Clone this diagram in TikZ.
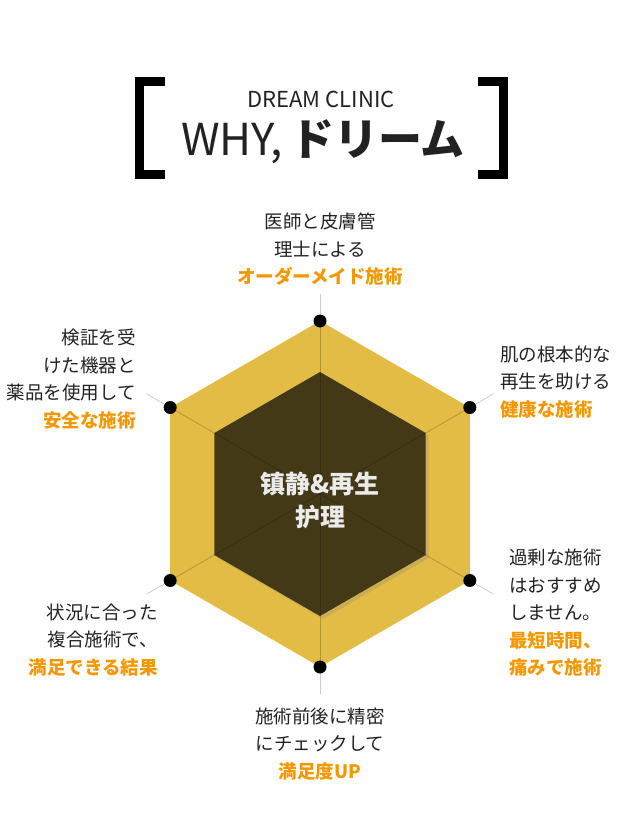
\documentclass[tikz,border=0pt]{standalone}
\usepackage{fontspec}
\setmainfont{Noto Sans CJK JP}
\newfontfamily\scfont{Noto Sans CJK SC}
\usetikzlibrary{positioning,calc,shadows}
\definecolor{gold}{HTML}{E3BC45}
\definecolor{darkcore}{HTML}{433916}
\definecolor{accent}{HTML}{F39800}
\definecolor{ink}{HTML}{222222}
\tikzset{
    radar/.style={x=1pt,y=-1pt,line join=miter},
    vertexdot/.style={circle,fill=black,inner sep=0pt,minimum size=13pt},
    spoke/.style={draw=black,opacity=0.2,line width=0.8pt},
    caption/.style={text=ink,inner sep=0pt,font=\fontsize{18.5}{27.5}\selectfont},
    bracket/.style={draw=black,line width=9pt},
    }
\newcommand{\hl}[1]{{\bfseries\color{accent}#1}}

\begin{document}
\begin{tikzpicture}[radar]
            \useasboundingbox (0,0) rectangle (640,837);
            \coordinate (c) at (320,494);
            % axes of the hexagon
            \foreach \i/\a in {1/-90,2/-30,3/30,4/90,5/150,6/210} {
                \coordinate (o\i) at ($(c)+(\a:173)$);
                \coordinate (i\i) at ($(c)+(\a:122)$);
                \coordinate (s\i) at ($(c)+(\a:200)$);
            }
            \fill[gold] (o1) -- (o2) -- (o3) -- (o4) -- (o5) -- (o6) -- cycle;
            \fill[darkcore, drop shadow={opacity=0.25,shadow xshift=3pt,shadow yshift=-3pt}]
                (i1) -- (i2) -- (i3) -- (i4) -- (i5) -- (i6) -- cycle;
            \foreach \i in {1,...,6}
                \draw[spoke] (c) -- (s\i);
            \foreach \i in {1,...,6}
                \node[vertexdot] (d\i) at (o\i) {};

            \node[text=white!92!black, align=center, font=\scfont\bfseries\fontsize{25}{33}\selectfont]
                (core) at (320,501) {镇静\&再生\\护理};

            % title
            \draw[bracket] (165,81.5) -- (139.5,81.5) -- (139.5,174.5) -- (165,174.5);
            \draw[bracket] (478,81.5) -- (503.5,81.5) -- (503.5,174.5) -- (478,174.5);
            \node[text=ink, font=\fontsize{22}{22}\selectfont] (clinic) at (321,99) {DREAM CLINIC};
            \node[text=ink, font=\fontsize{44}{44}\selectfont] (why) at (323,142) {WHY,\,\textbf{ドリーム}};

            % labels
            \node[caption, align=center] (l1) at (320,249.5)
                {医師と皮膚管\\理士による\\\hl{オーダーメイド施術}};
            \node[caption, align=left, anchor=west] (l2) at (500,382)
                {肌の根本的な\\再生を助ける\\\hl{健康な施術}};
            \node[caption, align=left, anchor=west] (l3) at (509,613)
                {過剰な施術\\はおすすめ\\しません。\\\hl{最短時間、}\\\hl{痛みで施術}};
            \node[caption, align=center] (l4) at (320,744)
                {施術前後に精密\\にチェックして\\\hl{満足度UP}};
            \node[caption, align=right, anchor=east] (l5) at (158,640)
                {状況に合った\\複合施術で、\\\hl{満足できる結果}};
            \node[caption, align=right, anchor=east] (l6) at (136,379)
                {検証を受\\けた機器と\\薬品を使用して\\\hl{安全な施術}};
        \end{tikzpicture}
\end{document}
